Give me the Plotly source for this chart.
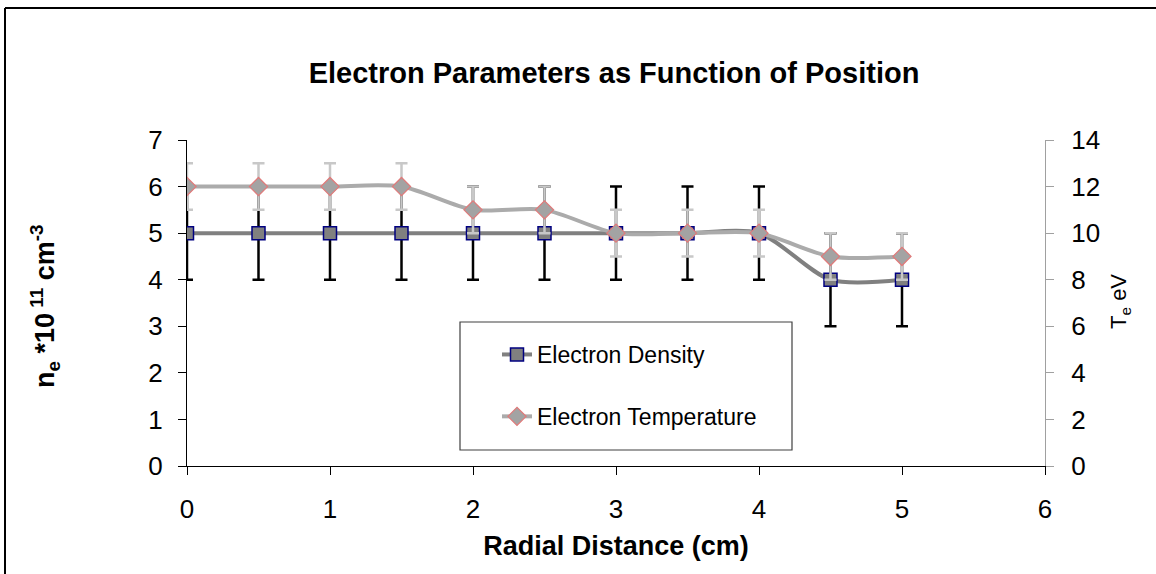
import plotly.graph_objects as go

# ---- data ----
radial_cm = [0, 0.5, 1, 1.5, 2, 2.5, 3, 3.5, 4, 4.5, 5]
density = [5, 5, 5, 5, 5, 5, 5, 5, 5, 4, 4]
density_err = [1, 1, 1, 1, 1, 1, 1, 1, 1, 1, 1]
temperature = [12, 12, 12, 12, 11, 11, 10, 10, 10, 9, 9]
temperature_err = [1, 1, 1, 1, 1, 1, 1, 1, 1, 1, 1]
x_ticks = [0, 1, 2, 3, 4, 5, 6]
y_ticks = [0, 1, 2, 3, 4, 5, 6, 7]
y2_ticks = [0, 2, 4, 6, 8, 10, 12, 14]

FONT = "Liberation Sans, Arial, sans-serif"

fig = go.Figure()
fig.add_trace(go.Scatter(
    x=radial_cm, y=density, name="Electron Density",
    mode="lines+markers",
    line=dict(color="#808080", width=4, shape="spline", smoothing=0.8),
    marker=dict(symbol="square", size=13, color="#808080",
                line=dict(color="#000080", width=1.5)),
    error_y=dict(type="data", array=density_err, color="#000000",
                 thickness=2.5, width=6),
    legendgroup="a",
))
fig.add_trace(go.Scatter(
    x=radial_cm, y=temperature, name="Electron Temperature",
    mode="lines+markers", yaxis="y2",
    line=dict(color="#ababab", width=4, shape="spline", smoothing=0.8),
    marker=dict(symbol="diamond", size=14, color="#a3a3a3",
                line=dict(color="#e07a7a", width=1.2)),
    error_y=dict(type="data", array=temperature_err, color="#c8c8c8",
                 thickness=2.5, width=6),
    legendgroup="b",
))

L, R, T, B = 187, 1156 - 1045, 140, 574 - 466
W, H = 1045 - 187, 466 - 140

def px(xp):
    return (xp - L) / W

def py(yp):
    return (466 - yp) / H

fig.update_layout(
    width=1156, height=574,
    margin=dict(l=L, r=R, t=T, b=B),
    paper_bgcolor="white", plot_bgcolor="white",
    font=dict(family=FONT, size=20, color="black"),
    title=dict(text="<b>Electron Parameters as Function of Position</b>",
               x=614 / 1156, xanchor="center", y=1 - 73 / 574, yanchor="middle",
               font=dict(size=29, color="black")),
    xaxis=dict(range=[0, 6], tickvals=x_ticks, showgrid=False, zeroline=False,
               showline=True, linecolor="#000000", linewidth=1.2,
               ticks="outside", ticklen=8, tickcolor="#000000",
               ticklabelstandoff=12, tickfont=dict(size=26),
               title=dict(text="<b>Radial Distance (cm)</b>", standoff=12,
                          font=dict(size=27))),
    yaxis=dict(range=[0, 7], tickvals=y_ticks, showgrid=False, zeroline=False,
               showline=True, linecolor="#000000", linewidth=1.2,
               ticks="outside", ticklen=8, tickcolor="#000000",
               ticklabelstandoff=10, tickfont=dict(size=26)),
    yaxis2=dict(range=[0, 14], tickvals=y2_ticks, overlaying="y", side="right",
                showgrid=False, zeroline=False,
                showline=True, linecolor="#a0a0a0", linewidth=1.2,
                ticks="outside", ticklen=8, tickcolor="#a0a0a0",
                ticklabelstandoff=12, tickfont=dict(size=26)),
    showlegend=True,
    legend=dict(x=px(497), y=py(333), xanchor="left", yanchor="top",
                bgcolor="rgba(0,0,0,0)", borderwidth=0,
                traceorder="grouped", tracegroupgap=29,
                font=dict(size=23, color="black")),
    shapes=[
        dict(type="rect", xref="paper", yref="paper",
             x0=px(460), x1=px(792), y0=py(450), y1=py(322),
             line=dict(color="#404040", width=1.2), fillcolor="rgba(0,0,0,0)"),
        dict(type="line", xref="paper", yref="paper",
             x0=px(5), x1=px(1200), y0=py(8), y1=py(8),
             line=dict(color="#000000", width=2)),
        dict(type="line", xref="paper", yref="paper",
             x0=px(5), x1=px(5), y0=py(8), y1=py(600),
             line=dict(color="#000000", width=2)),
    ],
    annotations=[
        dict(text="<b>n<sub>e</sub> *10<sup> 11</sup> cm<sup>-3</sup></b>",
             textangle=-90, xref="paper", yref="paper",
             x=px(45), y=py(306), xanchor="center", yanchor="middle",
             showarrow=False, font=dict(size=27, color="black")),
        dict(text="T<sub>e</sub> eV", textangle=-90, xref="paper", yref="paper",
             x=px(1120), y=py(302), xanchor="center", yanchor="middle",
             showarrow=False, font=dict(size=22, color="black")),
    ],
)

fig.write_html("out.html")
